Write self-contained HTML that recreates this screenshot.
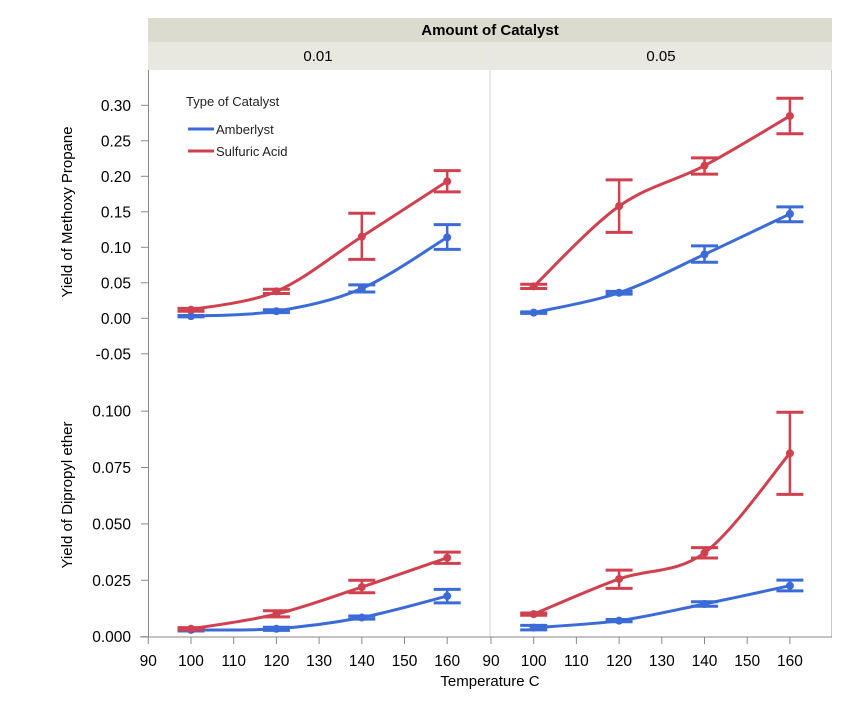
<!DOCTYPE html>
<html><head><meta charset="utf-8">
<style>
body{margin:0;background:#fff;}
svg{display:block;font-family:"Liberation Sans",sans-serif;}
</style></head>
<body>
<svg id="c" width="868" height="709" viewBox="0 0 868 709" xmlns="http://www.w3.org/2000/svg">
<rect x="148" y="18" width="684" height="24" fill="#dcdbcf"/>
<text x="490" y="35" text-anchor="middle" font-size="15" font-weight="bold" fill="#000">Amount of Catalyst</text>
<rect x="148" y="42" width="341" height="28" fill="#e9e8e0"/>
<rect x="491" y="42" width="341" height="28" fill="#e9e8e0"/>
<text x="318" y="61" text-anchor="middle" font-size="15">0.01</text>
<text x="661" y="61" text-anchor="middle" font-size="15">0.05</text>
<line x1="490" y1="42" x2="490" y2="637" stroke="#d0d0d0"/>
<line x1="831.5" y1="70" x2="831.5" y2="637" stroke="#c8c8c8"/>
<line x1="148.5" y1="70" x2="148.5" y2="637" stroke="#888"/>
<line x1="140" y1="637" x2="832" y2="637" stroke="#888"/>
<text transform="translate(72,212) rotate(-90)" text-anchor="middle" font-size="15">Yield of Methoxy Propane</text>
<text transform="translate(72,495) rotate(-90)" text-anchor="middle" font-size="15">Yield of Dipropyl ether</text>
<text x="490" y="686" text-anchor="middle" font-size="15">Temperature C</text>
<g>
<text x="186" y="106" font-size="13" fill="#222">Type of Catalyst</text>
<line x1="188" y1="129" x2="214" y2="129" stroke="#3b6bd6" stroke-width="3"/>
<text x="216" y="134" font-size="13" fill="#222">Amberlyst</text>
<line x1="188" y1="151" x2="214" y2="151" stroke="#d0414f" stroke-width="3"/>
<text x="216" y="156" font-size="13" fill="#222">Sulfuric Acid</text>
</g>
<g id="marks"></g>
</svg>
<script>
const temps=[100,120,140,160];
const xTicks=[90,100,110,120,130,140,150,160];
const topTicks=[0.30,0.25,0.20,0.15,0.10,0.05,0.00,-0.05];
const topTickLabels=["0.30","0.25","0.20","0.15","0.10","0.05","0.00","-0.05"];
const botTicks=[0.100,0.075,0.050,0.025,0.000];
const botTickLabels=["0.100","0.075","0.050","0.025","0.000"];
// Methoxy propane
const mpAmb001=[0.003,0.010,0.042,0.114];
const mpAmb001Lo=[0.002,0.008,0.037,0.097];
const mpAmb001Hi=[0.004,0.012,0.047,0.132];
const mpSul001=[0.012,0.038,0.115,0.193];
const mpSul001Lo=[0.010,0.035,0.083,0.178];
const mpSul001Hi=[0.014,0.041,0.148,0.208];
const mpAmb005=[0.008,0.036,0.090,0.147];
const mpAmb005Lo=[0.007,0.034,0.079,0.136];
const mpAmb005Hi=[0.009,0.038,0.102,0.157];
const mpSul005=[0.045,0.158,0.215,0.285];
const mpSul005Lo=[0.042,0.121,0.203,0.260];
const mpSul005Hi=[0.048,0.195,0.226,0.310];
// Dipropyl ether
const dpAmb001=[0.003,0.0035,0.0085,0.018];
const dpAmb001Lo=[0.0025,0.0028,0.0078,0.015];
const dpAmb001Hi=[0.0035,0.0042,0.0092,0.021];
const dpSul001=[0.0035,0.010,0.022,0.035];
const dpSul001Lo=[0.003,0.0088,0.0195,0.0325];
const dpSul001Hi=[0.004,0.0115,0.025,0.0375];
const dpAmb005=[0.004,0.0071,0.0145,0.0226];
const dpAmb005Lo=[0.003,0.0066,0.0135,0.0203];
const dpAmb005Hi=[0.005,0.0076,0.0155,0.0251];
const dpSul005=[0.010,0.0256,0.0372,0.0813];
const dpSul005Lo=[0.0095,0.0214,0.0349,0.0631];
const dpSul005Hi=[0.0105,0.0295,0.0395,0.0995];

const NS="http://www.w3.org/2000/svg";
const g=document.getElementById('marks');
const BLUE="#3b6bd6",RED="#d0414f";
function xs(panel){const x0=panel===0?148.3:491;return v=>x0+(v-90)*4.27;}
const yTop=v=>318.3-v*710;
const yBot=v=>636.7-v*2256;
function mk(tag,attrs){const e=document.createElementNS(NS,tag);for(const k in attrs)e.setAttribute(k,attrs[k]);g.appendChild(e);return e;}

topTicks.forEach((t,i)=>{
  const l=mk('line',{x1:141,x2:148,y1:yTop(t),y2:yTop(t),stroke:'#888'});
  
  
  const tx=mk('text',{x:131,y:yTop(t)+5.5,'text-anchor':'end','font-size':15.5});
  tx.textContent=topTickLabels[i];
  
  
});
botTicks.forEach((t,i)=>{
  const l=mk('line',{x1:141,x2:148,y1:yBot(t),y2:yBot(t),stroke:'#888'});
  
  
  const tx=mk('text',{x:131,y:yBot(t)+5.5,'text-anchor':'end','font-size':15.5});
  tx.textContent=botTickLabels[i];
  
  
});
[0,1].forEach(p=>{const X=xs(p);xTicks.forEach(t=>{
  const l=mk('line',{x1:X(t),x2:X(t),y1:637,y2:644,stroke:'#888'});
  
  
  const tx=mk('text',{x:X(t),y:666,'text-anchor':'middle','font-size':15.5});
  tx.textContent=String(t);
  
  
});});

function series(panel,Y,vals,lo,hi,color,name){
  const X=xs(panel);
  const pts=temps.map((t,i)=>[X(t),Y(vals[i])]);
  let d=`M${pts[0][0]},${pts[0][1]}`;
  for(let i=0;i<pts.length-1;i++){
    const p0=pts[Math.max(0,i-1)],p1=pts[i],p2=pts[i+1],p3=pts[Math.min(pts.length-1,i+2)];
    const c1=[p1[0]+(p2[0]-p0[0])/6,p1[1]+(p2[1]-p0[1])/6];
    const c2=[p2[0]-(p3[0]-p1[0])/6,p2[1]-(p3[1]-p1[1])/6];
    d+=` C${c1[0]},${c1[1]} ${c2[0]},${c2[1]} ${p2[0]},${p2[1]}`;
  }
  const path=mk('path',{d:d,fill:'none',stroke:color,'stroke-width':3});
  
  
  temps.forEach((t,i)=>{
    const x=X(t),yl=Y(lo[i]),yh=Y(hi[i]);
    const v=mk('line',{x1:x,x2:x,y1:yl,y2:yh,stroke:color,'stroke-width':2.5});
    
    
    [yl,yh].forEach(yy=>{
      const c=mk('line',{x1:x-13.5,x2:x+13.5,y1:yy,y2:yy,stroke:color,'stroke-width':3});
      
      
    });
    const dot=mk('circle',{cx:x,cy:Y(vals[i]),r:4,fill:color});
    
    
  });
}
series(0,yTop,mpAmb001,mpAmb001Lo,mpAmb001Hi,BLUE,'mp-amberlyst-001');
series(0,yTop,mpSul001,mpSul001Lo,mpSul001Hi,RED,'mp-sulfuric-001');
series(1,yTop,mpAmb005,mpAmb005Lo,mpAmb005Hi,BLUE,'mp-amberlyst-005');
series(1,yTop,mpSul005,mpSul005Lo,mpSul005Hi,RED,'mp-sulfuric-005');
series(0,yBot,dpAmb001,dpAmb001Lo,dpAmb001Hi,BLUE,'dp-amberlyst-001');
series(0,yBot,dpSul001,dpSul001Lo,dpSul001Hi,RED,'dp-sulfuric-001');
series(1,yBot,dpAmb005,dpAmb005Lo,dpAmb005Hi,BLUE,'dp-amberlyst-005');
series(1,yBot,dpSul005,dpSul005Lo,dpSul005Hi,RED,'dp-sulfuric-005');
</script>
</body></html>
